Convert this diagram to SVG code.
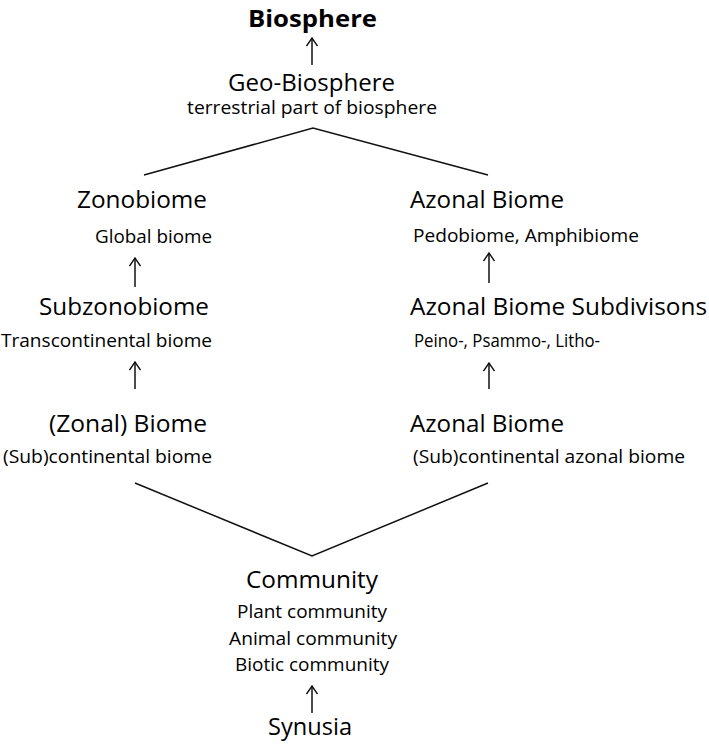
<svg xmlns="http://www.w3.org/2000/svg" width="709" height="744" viewBox="0 0 709 744">
<style>
text{font-family:"Open Sans","Noto Sans","Liberation Sans",sans-serif;fill:#000;}
.big{font-size:23px;}
.small{font-size:18px;}
.bold{font-size:23px;font-weight:bold;}
.ln{stroke:#111;stroke-width:1.5;fill:none;}
</style>
<defs>
<marker id="ah" viewBox="0 0 12 12" refX="11" refY="6" markerWidth="12" markerHeight="12" markerUnits="userSpaceOnUse" orient="auto">
<path d="M3,0.5 L11,6 L3,11.5" fill="none" stroke="#111" stroke-width="1.4"/>
</marker>
</defs>
<rect width="709" height="744" fill="#fff"/>
<g id="connectors">
<line class="ln" x1="312" y1="65" x2="312" y2="38" marker-end="url(#ah)"/>
<polyline class="ln" points="144,175 313,128 488,175"/>
<line class="ln" x1="135" y1="287" x2="135" y2="258" marker-end="url(#ah)"/>
<line class="ln" x1="135" y1="389" x2="135" y2="362" marker-end="url(#ah)"/>
<line class="ln" x1="489" y1="283" x2="489" y2="253" marker-end="url(#ah)"/>
<line class="ln" x1="489" y1="389" x2="489" y2="363" marker-end="url(#ah)"/>
<polyline class="ln" points="135,483 312,556 488,483"/>
<line class="ln" x1="312" y1="713" x2="312" y2="686" marker-end="url(#ah)"/>
</g>
<g id="biosphere"><text class="bold" x="248" y="27" textLength="129" lengthAdjust="spacingAndGlyphs">Biosphere</text></g>
<g id="geo-biosphere">
<text class="big" x="228" y="91" textLength="167" lengthAdjust="spacingAndGlyphs">Geo-Biosphere</text>
<text class="small" x="187" y="114" textLength="250" lengthAdjust="spacingAndGlyphs">terrestrial part of biosphere</text>
</g>
<g id="zonobiome">
<text class="big" x="77" y="208" textLength="130" lengthAdjust="spacingAndGlyphs">Zonobiome</text>
<text class="small" x="95" y="243" textLength="117" lengthAdjust="spacingAndGlyphs">Global biome</text>
</g>
<g id="subzonobiome">
<text class="big" x="39" y="315" textLength="170" lengthAdjust="spacingAndGlyphs">Subzonobiome</text>
<text class="small" x="1" y="347" textLength="211" lengthAdjust="spacingAndGlyphs">Transcontinental biome</text>
</g>
<g id="zonal-biome">
<text class="big" x="49" y="432" textLength="158" lengthAdjust="spacingAndGlyphs">(Zonal) Biome</text>
<text class="small" x="3" y="463" textLength="209" lengthAdjust="spacingAndGlyphs">(Sub)continental biome</text>
</g>
<g id="azonal-biome">
<text class="big" x="410" y="208" textLength="154" lengthAdjust="spacingAndGlyphs">Azonal Biome</text>
<text class="small" x="413" y="242" textLength="226" lengthAdjust="spacingAndGlyphs">Pedobiome, Amphibiome</text>
</g>
<g id="azonal-subdivisions">
<text class="big" x="410" y="315" textLength="297" lengthAdjust="spacingAndGlyphs">Azonal Biome Subdivisons</text>
<text class="small" x="414" y="347" textLength="186" lengthAdjust="spacingAndGlyphs">Peino-, Psammo-, Litho-</text>
</g>
<g id="azonal-biome-continental">
<text class="big" x="410" y="432" textLength="154" lengthAdjust="spacingAndGlyphs">Azonal Biome</text>
<text class="small" x="413" y="463" textLength="272" lengthAdjust="spacingAndGlyphs">(Sub)continental azonal biome</text>
</g>
<g id="community">
<text class="big" x="246" y="588" textLength="132" lengthAdjust="spacingAndGlyphs">Community</text>
<text class="small" x="237" y="618" textLength="150" lengthAdjust="spacingAndGlyphs">Plant community</text>
<text class="small" x="229" y="645" textLength="168" lengthAdjust="spacingAndGlyphs">Animal community</text>
<text class="small" x="235" y="671" textLength="154" lengthAdjust="spacingAndGlyphs">Biotic community</text>
</g>
<g id="synusia"><text class="big" x="268" y="735" textLength="84" lengthAdjust="spacingAndGlyphs">Synusia</text></g>
</svg>
